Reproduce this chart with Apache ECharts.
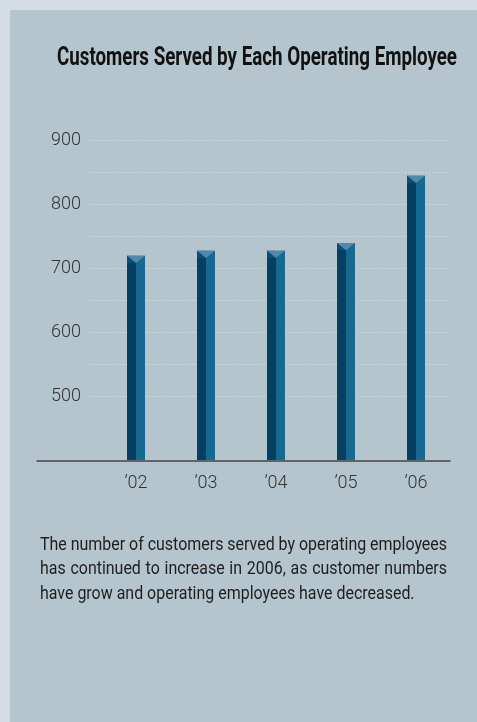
<!DOCTYPE html>
<html>
<head>
<meta charset="utf-8">
<style>
  html, body { margin: 0; padding: 0; background: #d3dde3; }
  #chart { width: 477px; height: 722px; }
</style>
<script src="https://cdn.jsdelivr.net/npm/echarts@6/dist/echarts.min.js"></script>
</head>
<body>
<div id="chart"></div>
<script>
// Chart data
const titleText = 'Customers Served by Each Operating Employee';
const years = ['\u201902', '\u201903', '\u201904', '\u201905', '\u201906'];
const customersPerEmployee = [719, 727, 727, 739, 844];
const yMin = 400;
const yMax = 900;
const yStep = 50;
const yTickLabels = [500, 600, 700, 800, 900];
const noteLines = [
  'The number of customers served by operating employees',
  'has continued to increase in 2006, as customer numbers',
  'have grow and operating employees have decreased.'
];

const FONT = 'Roboto';
const PANEL = '#b5c5cd';
const GRID_DOT = '#dbe2e6';
const FACE_DARK = '#063f62';
const FACE_LIGHT = '#166990';
const CAP = '#5089ac';

// split-line colours: hide the 400 and 450 lines, show 500..900
const splitColors = [];
for (let v = yMin; v <= yMax; v += yStep) {
  splitColors.push(v >= 500 ? GRID_DOT : 'rgba(0,0,0,0)');
}

const measureCtx = document.createElement('canvas').getContext('2d');
function textWidth(str, size, weight) {
  measureCtx.font = (weight || 'normal') + ' ' + size + 'px ' + FONT;
  return measureCtx.measureText(str).width;
}

// condensed title: squeeze Roboto horizontally to span 57..457
const titleSize = 25, titleLeft = 57, titleRight = 457, titleMid = 59;
const titleScale = (titleRight - titleLeft) / textWidth(titleText, titleSize, 'bold');

// paragraph: condensed, justified except the last line
const noteSize = 19, noteLeft = 40, noteRight = 447, noteMid = 545, noteLeading = 24.5;
const noteScale = Math.min.apply(null, noteLines.map(function (l) {
  return (noteRight - noteLeft) / textWidth(l, noteSize);
}));
const noteGraphics = [];
noteLines.forEach(function (line, li) {
  const y = noteMid + li * noteLeading;
  const words = line.split(' ');
  const base = { fontFamily: FONT, fontSize: noteSize, fill: '#1e1e1e', verticalAlign: 'middle' };
  if (li === noteLines.length - 1) {
    noteGraphics.push({ type: 'text', x: noteLeft, y: y, scaleX: noteScale, style: Object.assign({ text: line }, base) });
    return;
  }
  const widths = words.map(function (w) { return textWidth(w, noteSize) * noteScale; });
  const total = widths.reduce(function (a, b) { return a + b; }, 0);
  const gap = (noteRight - noteLeft - total) / (words.length - 1);
  let x = noteLeft;
  words.forEach(function (w, wi) {
    noteGraphics.push({ type: 'text', x: x, y: y, scaleX: noteScale, style: Object.assign({ text: w }, base) });
    x += widths[wi] + gap;
  });
});

const chart = echarts.init(document.getElementById('chart'), null, { renderer: 'canvas' });

const option = {
  backgroundColor: 'transparent',
  animation: false,
  graphic: [
    { type: 'rect', shape: { x: 10, y: 10, width: 467, height: 712 }, style: { fill: PANEL }, z: -10 },
    {
      type: 'text', x: titleLeft, y: titleMid, scaleX: titleScale,
      style: { text: titleText, fontFamily: FONT, fontWeight: 'bold', fontSize: titleSize, fill: '#111', verticalAlign: 'middle' }
    }
  ].concat(noteGraphics),
  grid: [
    { left: 90, right: 25, top: 140, bottom: 262 },   // gridlines + value labels
    { left: 101, right: 26, top: 140, bottom: 262 },  // bars + year labels
    { left: 37, right: 27, top: 140, bottom: 261 }    // baseline
  ],
  xAxis: [
    { gridIndex: 0, type: 'category', data: years, show: false },
    {
      gridIndex: 1, type: 'category', data: years,
      axisLine: { show: false }, axisTick: { show: false },
      axisLabel: { margin: 14, fontFamily: FONT, fontWeight: 300, fontSize: 18, color: '#333' }
    },
    {
      gridIndex: 2, type: 'category', data: years,
      axisLine: { show: true, lineStyle: { color: '#444', width: 1.5 } },
      axisTick: { show: false }, axisLabel: { show: false }
    }
  ],
  yAxis: [
    {
      gridIndex: 0, type: 'value', min: yMin, max: yMax, interval: yStep,
      axisLine: { show: false }, axisTick: { show: false },
      axisLabel: {
        margin: 9, fontFamily: FONT, fontWeight: 300, fontSize: 18, color: '#333',
        formatter: function (v) { return yTickLabels.indexOf(v) >= 0 ? String(v) : ''; }
      },
      splitLine: { show: true, lineStyle: { color: splitColors, type: [1, 2], width: 1 } }
    },
    { gridIndex: 1, type: 'value', min: yMin, max: yMax, interval: yStep, show: false },
    { gridIndex: 2, type: 'value', min: yMin, max: yMax, show: false }
  ],
  series: [
    {
      type: 'custom',
      xAxisIndex: 1,
      yAxisIndex: 1,
      data: customersPerEmployee.map(function (v, i) { return [i, v]; }),
      encode: { x: 0, y: 1 },
      renderItem: function (params, api) {
        const idx = api.value(0);
        const top = api.coord([idx, api.value(1)]);
        const base = api.coord([idx, yMin]);
        const band = api.size([1, 0])[0];
        const w = band * 18 / 70;
        const hw = w / 2;
        const cx = top[0];
        const capH = w * 0.4;
        return {
          type: 'group',
          children: [
            { type: 'rect', shape: { x: cx - hw, y: top[1], width: hw, height: base[1] - top[1] }, style: { fill: FACE_DARK } },
            { type: 'rect', shape: { x: cx, y: top[1], width: hw, height: base[1] - top[1] }, style: { fill: FACE_LIGHT } },
            { type: 'polygon', shape: { points: [[cx - hw, top[1]], [cx, top[1] + capH], [cx - hw, top[1] + capH]] }, style: { fill: '#0d4c72' } },
            { type: 'polygon', shape: { points: [[cx - hw, top[1]], [cx + hw, top[1]], [cx, top[1] + capH]] }, style: { fill: CAP } }
          ]
        };
      }
    }
  ]
};

chart.setOption(option);
</script>
</body>
</html>
